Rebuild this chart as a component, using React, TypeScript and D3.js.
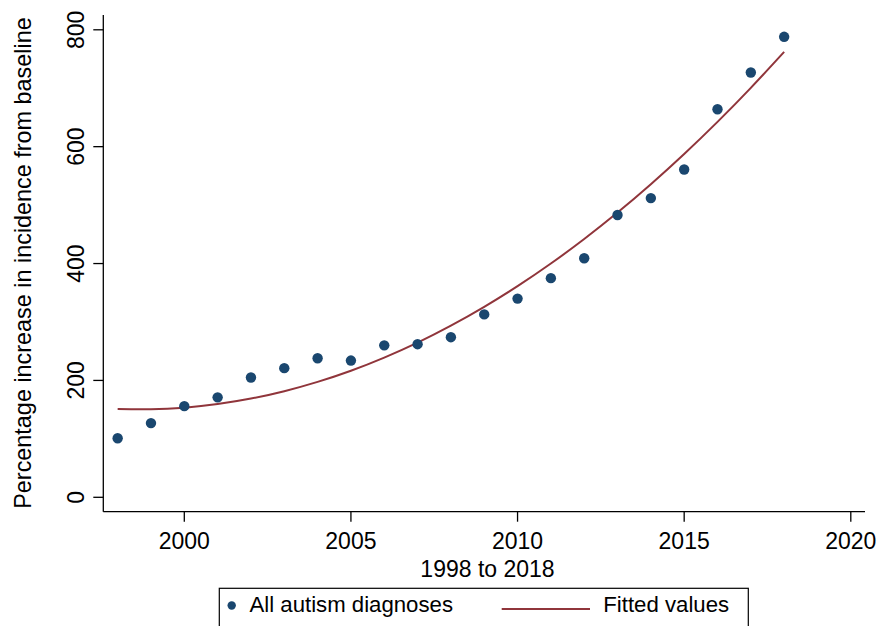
import React from "react";
import * as d3 from "d3";

const years = [1998,1999,2000,2001,2002,2003,2004,2005,2006,2007,2008,2009,2010,2011,2012,2013,2014,2015,2016,2017,2018];
const diagnoses = [101,127,156,171,205,221,238,234,260,262,274,313,340,375,409,483,512,561,664,727,788];
const fitted = [150.9,150.6,153.4,159.5,168.9,181.6,197.5,216.6,239.1,264.7,293.7,325.9,361.3,400.0,442.0,487.2,535.7,587.4,642.4,700.6,762.1];
const xTicks = [2000,2005,2010,2015,2020];
const yTicks = [0,200,400,600,800];

const W = 877, H = 626;
const FONT = "'Liberation Sans', Arial, Helvetica, sans-serif";
const NAVY = "#1a476f";
const MAROON = "#90353b";

export default function App() {
  const x = d3.scaleLinear().domain([2000, 2020]).range([184.3, 850.8]);
  const y = d3.scaleLinear().domain([0, 800]).range([497.3, 29.8]);
  const left = 103.3, right = 865, top = 15, bottom = 511.7;
  const line = d3.line<number>().x((_, i) => x(years[i])).y(d => y(d)).curve(d3.curveNatural);

  return (
    <svg width={W} height={H} style={{ position: "absolute", left: 0, top: 0, background: "#fff" }} fontFamily={FONT}>
      <rect x={0} y={0} width={W} height={H} fill="#fff" />
      <line x1={left} x2={left} y1={top} y2={bottom} stroke="#000" strokeWidth={1.3} />
      <line x1={left} x2={right} y1={bottom} y2={bottom} stroke="#000" strokeWidth={1.3} />
      {yTicks.map(t => (
        <g key={"y" + t}>
          <line x1={left - 10} x2={left} y1={y(t)} y2={y(t)} stroke="#000" strokeWidth={1.3} />
          <text transform={`translate(${84.3},${y(t)}) rotate(-90)`} textAnchor="middle" fontSize={23} fill="#000">{t}</text>
        </g>
      ))}
      {xTicks.map(t => (
        <g key={"x" + t}>
          <line x1={x(t)} x2={x(t)} y1={bottom} y2={bottom + 10} stroke="#000" strokeWidth={1.3} />
          <text x={x(t)} y={548.5} textAnchor="middle" fontSize={23} fill="#000">{t}</text>
        </g>
      ))}
      <text x={487.5} y={577.2} textAnchor="middle" fontSize={23} fill="#000">1998 to 2018</text>
      <text transform={`translate(30.5,263) rotate(-90)`} textAnchor="middle" fontSize={23.4} fill="#000">Percentage increase in incidence from baseline</text>
      <path d={line(fitted) || ""} fill="none" stroke={MAROON} strokeWidth={2} />
      {diagnoses.map((v, i) => (
        <circle key={i} cx={x(years[i])} cy={y(v)} r={5.2} fill={NAVY} />
      ))}
      <rect x={219.3} y={588.3} width={529} height={60} fill="#fff" stroke="#000" strokeWidth={1.2} />
      <circle cx={231.7} cy={605.5} r={4.2} fill={NAVY} />
      <text x={249.5} y={611.7} fontSize={22.2} fill="#000">All autism diagnoses</text>
      <line x1={501.7} x2={590} y1={609} y2={609} stroke={MAROON} strokeWidth={2} />
      <text x={603.3} y={611.7} fontSize={22.2} fill="#000">Fitted values</text>
    </svg>
  );
}
